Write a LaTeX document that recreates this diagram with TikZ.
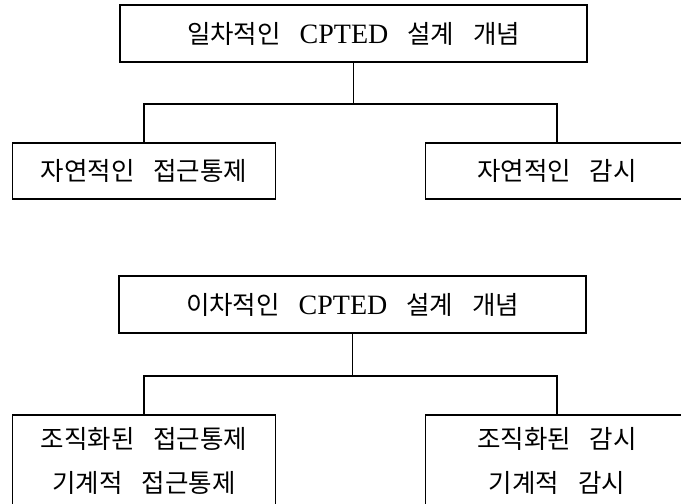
\documentclass[tikz,border=0pt]{standalone}
\usepackage{fontspec}
\setmainfont{Liberation Serif}
\newfontfamily\kr{Noto Sans CJK KR}[WordSpace=3.3]
\newcommand{\latin}[1]{{\rmfamily\fontsize{28}{44}\selectfont #1}}
\tikzstyle{concept}=[draw,line width=1.2pt,inner sep=0pt,align=center,font=\kr\fontsize{25.5}{44}\selectfont]
\tikzstyle{headbox}=[concept,minimum width=467pt,minimum height=57pt]
\tikzstyle{leafbox}=[concept,minimum width=263pt]
\tikzstyle{link}=[draw,line width=1.2pt,-]

\begin{document}
\begin{tikzpicture}[x=1pt,y=-1pt]
    \useasboundingbox (0,0) rectangle (681,504);
    % First we draw the concept boxes
    \node[headbox] (first) at (353.5,33.5) {일차적인 \latin{CPTED} 설계 개념};
    \node[leafbox,minimum height=56pt] (firstl) at (144,171) {자연적인 접근통제};
    \node[leafbox,minimum height=56pt] (firstr) at (557,171) {자연적인 감시};
    \node[headbox] (second) at (352.5,304.5) {이차적인 \latin{CPTED} 설계 개념};
    \node[leafbox,minimum height=92pt] (secondl) at (144,461) {조직화된 접근통제\\기계적 접근통제};
    \node[leafbox,minimum height=92pt] (secondr) at (557,461) {조직화된 감시\\기계적 감시};
    % Connect each head with its two boxes
    \foreach \up/\lf/\rt in {first/firstl/firstr, second/secondl/secondr} {
        \path[link] (\lf.north) -- ++(0,-38.5) coordinate (\up-bar) -| (\rt.north);
        \path[link] (\up.south) -- (\up.south |- \up-bar);
    }
\end{tikzpicture}
\end{document}
